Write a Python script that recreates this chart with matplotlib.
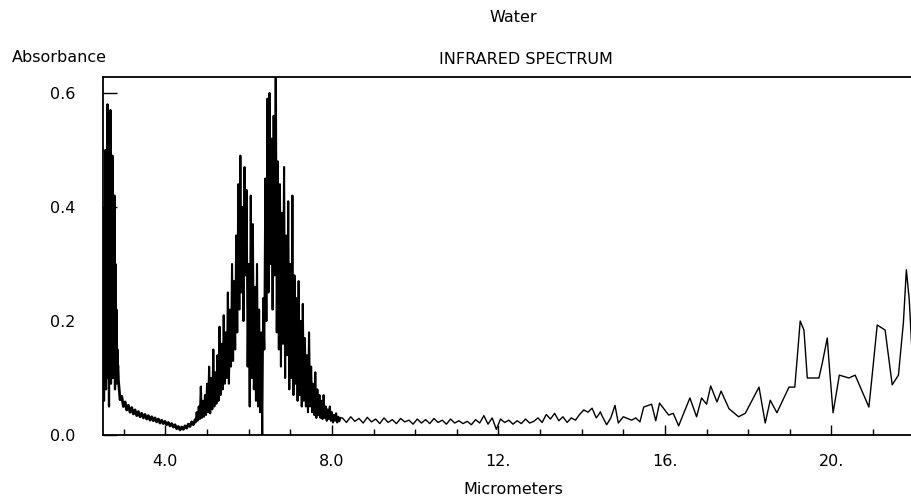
import numpy as np
import matplotlib
matplotlib.use("Agg")
import matplotlib.pyplot as plt
from matplotlib.ticker import MultipleLocator

plt.rcParams['font.family'] = 'DejaVu Sans'

# --- spectrum (micrometers, absorbance) ---
# 2.50 - 2.86 um, dense band
band1_range = (2.50, 2.86)
band1_y = [0.10, 0.38, 0.06, 0.40, 0.12, 0.50, 0.08, 0.38, 0.15, 0.58,
           0.10, 0.40, 0.05, 0.52, 0.12, 0.57, 0.09, 0.39, 0.14, 0.49,
           0.10, 0.36, 0.13, 0.42, 0.08, 0.30, 0.12, 0.22, 0.09, 0.15, 0.12]

# 2.87 - 4.71 um, decaying thick curve
tail_range = (2.87, 4.71)
tail_y = [0.096, 0.062, 0.068, 0.050, 0.058, 0.044, 0.052, 0.040, 0.048, 0.037,
          0.044, 0.034, 0.041, 0.032, 0.038, 0.030, 0.036, 0.028, 0.034, 0.026,
          0.032, 0.025, 0.030, 0.023, 0.028, 0.021, 0.026, 0.020, 0.024, 0.018,
          0.022, 0.016, 0.020, 0.014, 0.018, 0.011, 0.015, 0.009, 0.014, 0.010,
          0.016, 0.012, 0.019, 0.015, 0.023, 0.018, 0.026]

# 4.725 - 8.20 um, bending band
band2_range = (4.725, 8.20)
band2_y = [0.022, 0.04, 0.025, 0.05, 0.028, 0.085, 0.03, 0.06, 0.032, 0.07,
           0.035, 0.09, 0.04, 0.12, 0.038, 0.10, 0.045, 0.15, 0.05, 0.11,
           0.055, 0.14, 0.06, 0.19, 0.07, 0.16, 0.08, 0.21, 0.09, 0.18,
           0.10, 0.25, 0.09, 0.22, 0.12, 0.30, 0.13, 0.27, 0.15, 0.35,
           0.18, 0.44, 0.22, 0.49, 0.25, 0.40, 0.20, 0.47, 0.28, 0.43,
           0.12, 0.30, 0.05, 0.42, 0.10, 0.37, 0.08, 0.26, 0.06, 0.30,
           0.05, 0.22, 0.04, 0.18, 0.00, 0.24, 0.15, 0.45, 0.20, 0.59,
           0.25, 0.60, 0.30, 0.52, 0.22, 0.56, 0.28, 0.70, 0.18, 0.48,
           0.15, 0.44, 0.12, 0.39, 0.16, 0.47, 0.10, 0.35, 0.14, 0.41,
           0.08, 0.30, 0.10, 0.42, 0.07, 0.28, 0.09, 0.24, 0.06, 0.27,
           0.07, 0.20, 0.05, 0.23, 0.06, 0.17, 0.05, 0.14, 0.04, 0.18,
           0.05, 0.12, 0.04, 0.09, 0.035, 0.11, 0.03, 0.08, 0.035, 0.07,
           0.03, 0.06, 0.028, 0.07, 0.03, 0.05, 0.025, 0.045, 0.028, 0.05,
           0.025, 0.04, 0.022, 0.035, 0.025, 0.038, 0.022, 0.032, 0.024, 0.03]

# 8.25 - 14.45 um, low noisy baseline
flat_range = (8.25, 14.45)
flat_y = [0.030, 0.022, 0.032, 0.024, 0.029, 0.021, 0.031, 0.023, 0.028, 0.020,
          0.030, 0.022, 0.027, 0.020, 0.029, 0.023, 0.026, 0.019, 0.028, 0.021,
          0.027, 0.020, 0.029, 0.022, 0.026, 0.019, 0.028, 0.021, 0.025, 0.020,
          0.024, 0.018, 0.027, 0.021, 0.034, 0.019, 0.030, 0.010, 0.028, 0.022,
          0.026, 0.019, 0.025, 0.020, 0.028, 0.021, 0.024, 0.030, 0.022, 0.036,
          0.028, 0.038, 0.025, 0.032, 0.022, 0.030, 0.026, 0.036, 0.044, 0.040,
          0.047, 0.030, 0.040]

# 14.48 - 22.0 um, resolved peaks
far_x = [14.48, 14.60, 14.70, 14.80, 14.88, 15.00, 15.20, 15.30, 15.40, 15.49,
         15.68, 15.78, 15.87, 16.09, 16.20, 16.33, 16.45, 16.60, 16.76, 16.88,
         17.00, 17.10, 17.25, 17.35, 17.54, 17.77, 17.93, 18.26, 18.41, 18.53,
         18.69, 18.98, 19.12, 19.18, 19.25, 19.34, 19.42, 19.70, 19.78, 19.90,
         19.95, 20.04, 20.19, 20.42, 20.57, 20.90, 20.96, 21.10, 21.29, 21.46,
         21.61, 21.73, 21.80, 21.87, 21.95, 22.00]
far_y = [0.035, 0.018, 0.030, 0.052, 0.021, 0.032, 0.026, 0.030, 0.023, 0.049,
         0.054, 0.025, 0.056, 0.035, 0.038, 0.016, 0.038, 0.065, 0.032, 0.065,
         0.054, 0.086, 0.058, 0.077, 0.046, 0.032, 0.038, 0.084, 0.021, 0.061,
         0.039, 0.084, 0.084, 0.137, 0.200, 0.184, 0.100, 0.100, 0.126, 0.170,
         0.120, 0.039, 0.105, 0.100, 0.105, 0.049, 0.091, 0.193, 0.184, 0.088,
         0.105, 0.198, 0.290, 0.237, 0.126, 0.100]

x_ticks = [4, 8, 12, 16, 20]
x_labels = ['4.0', '8.0', '12.', '16.', '20.']
y_ticks = [0.0, 0.2, 0.4, 0.6]
y_labels = ['0.0', '0.2', '0.4', '0.6']

fig = plt.figure(figsize=(9.12, 5.03), dpi=100)
ax = fig.add_axes([103/912, 68/503, 820/912, 358/503])

# evenly sampled segments, the noisy ones drawn heavier so they fill in
segments = [(band1_range, band1_y, 1.6), (tail_range, tail_y, 2.0),
            (band2_range, band2_y, 1.5), (flat_range, flat_y, 1.0)]
prev = None
for (a, b), vals, lw in segments:
    sx = list(np.linspace(a, b, len(vals)))
    sy = list(vals)
    if prev is not None:
        sx.insert(0, prev[0])
        sy.insert(0, prev[1])
    ax.plot(sx, sy, color='black', lw=lw)
    prev = (sx[-1], sy[-1])
ax.plot([prev[0]] + far_x, [prev[1]] + far_y, color='black', lw=1.0)

ax.set_xlim(2.5, 22.2)
ax.set_ylim(0.0, 0.628)
ax.set_xticks(x_ticks, x_labels)
ax.set_yticks(y_ticks, y_labels)
ax.xaxis.set_minor_locator(MultipleLocator(1))
ax.yaxis.set_minor_locator(MultipleLocator(0.1))
ax.tick_params(axis='x', which='major', direction='in', length=7, width=1.0,
               pad=14, labelsize=11.5)
ax.tick_params(axis='x', which='minor', direction='in', length=4, width=1.0)
ax.tick_params(axis='y', which='major', direction='in', length=10, width=1.0,
               pad=20, labelsize=11.5)
ax.tick_params(axis='y', which='minor', direction='in', length=5, width=1.0)
ax.spines['right'].set_visible(False)
for s in ['top', 'left', 'bottom']:
    ax.spines[s].set_linewidth(1.3)

fig.text(513/912, 1 - 18/503, 'Water', ha='center', va='center', fontsize=11.5)
fig.text(526/912, 1 - 60/503, 'INFRARED SPECTRUM', ha='center', va='center',
         fontsize=11.5)
fig.text(12/912, 1 - 57/503, 'Absorbance', ha='left', va='center', fontsize=11.5)
fig.text(513/912, 1 - 490/503, 'Micrometers', ha='center', va='center',
         fontsize=11.5)

fig.savefig('out.png', dpi=100)
